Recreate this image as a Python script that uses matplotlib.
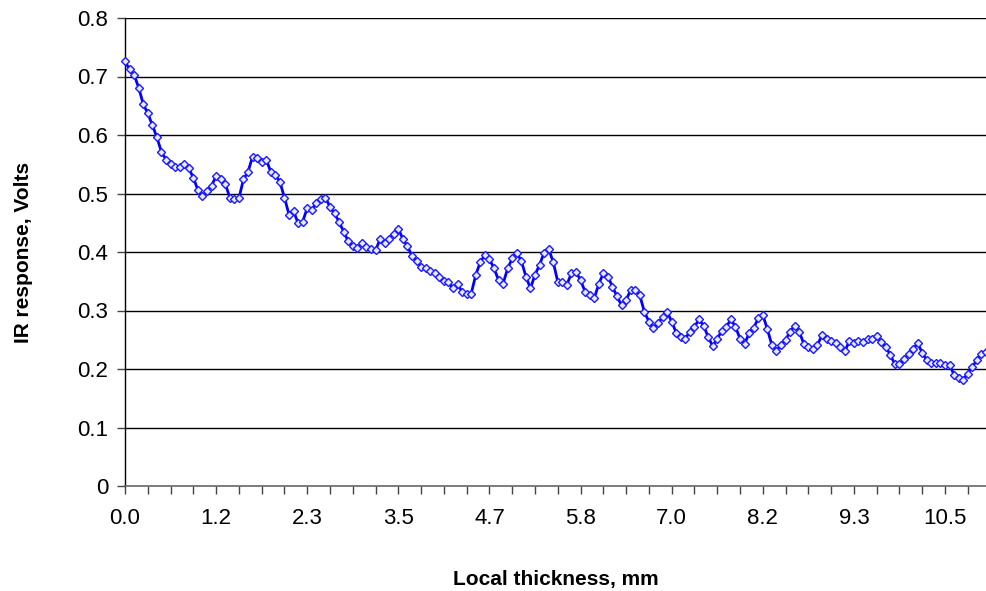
import matplotlib
matplotlib.use("Agg")
import matplotlib.pyplot as plt

# IR response (Volts) per sample
ir_response = [
    0.726, 0.712, 0.703, 0.681, 0.653, 0.637, 0.617, 0.596, 0.571, 0.558,
    0.550, 0.546, 0.546, 0.550, 0.543, 0.527, 0.506, 0.496, 0.504, 0.513,
    0.530, 0.524, 0.517, 0.493, 0.491, 0.492, 0.524, 0.537, 0.563, 0.560,
    0.554, 0.558, 0.537, 0.532, 0.520, 0.493, 0.464, 0.470, 0.449, 0.452,
    0.475, 0.472, 0.484, 0.490, 0.493, 0.477, 0.466, 0.451, 0.435, 0.418,
    0.410, 0.407, 0.415, 0.409, 0.405, 0.403, 0.422, 0.416, 0.423, 0.431,
    0.440, 0.422, 0.410, 0.393, 0.385, 0.374, 0.373, 0.368, 0.364, 0.357,
    0.351, 0.348, 0.338, 0.345, 0.332, 0.328, 0.329, 0.361, 0.383, 0.395,
    0.388, 0.372, 0.352, 0.346, 0.372, 0.389, 0.398, 0.385, 0.358, 0.338,
    0.361, 0.378, 0.399, 0.405, 0.383, 0.349, 0.348, 0.344, 0.364, 0.366,
    0.352, 0.332, 0.326, 0.321, 0.345, 0.364, 0.358, 0.341, 0.324, 0.309,
    0.318, 0.335, 0.335, 0.326, 0.298, 0.281, 0.270, 0.278, 0.289, 0.298,
    0.281, 0.262, 0.255, 0.252, 0.264, 0.272, 0.285, 0.274, 0.255, 0.239,
    0.252, 0.265, 0.272, 0.285, 0.272, 0.252, 0.243, 0.261, 0.270, 0.287,
    0.293, 0.268, 0.241, 0.231, 0.241, 0.250, 0.264, 0.274, 0.264, 0.243,
    0.238, 0.234, 0.241, 0.258, 0.252, 0.248, 0.244, 0.238, 0.230, 0.248,
    0.245, 0.248, 0.247, 0.251, 0.251, 0.256, 0.247, 0.238, 0.224, 0.208,
    0.208, 0.217, 0.225, 0.234, 0.244, 0.228, 0.215, 0.211, 0.210, 0.210,
    0.207, 0.207, 0.190, 0.184, 0.182, 0.192, 0.204, 0.215, 0.225, 0.229,
]

# category tick labels (every 20th sample), as printed on the axis
x_tick_labels = ["0.0", "1.2", "2.3", "3.5", "4.7", "5.8", "7.0", "8.2", "9.3", "10.5"]
y_tick_labels = ["0", "0.1", "0.2", "0.3", "0.4", "0.5", "0.6", "0.7", "0.8"]
y_ticks = [0, 0.1, 0.2, 0.3, 0.4, 0.5, 0.6, 0.7, 0.8]

plt.rcParams['font.family'] = ['Liberation Sans', 'DejaVu Sans']

W, H = 987, 591
fig = plt.figure(figsize=(W / 100, H / 100), dpi=100)
left, right, top, bottom = 125, 986, 18, 486
ax = fig.add_axes([left / W, 1 - bottom / H, (right - left) / W, (bottom - top) / H])

n = len(ir_response)
xs = list(range(n))
ax.plot(xs, ir_response, color='#0000ff', lw=2.0, marker='D', markersize=3.8,
        markerfacecolor='#e8e8ff', markeredgecolor='#1a1aff', markeredgewidth=1.0,
        zorder=3, clip_on=False)

ax.set_xlim(0, n - 1)
ax.set_ylim(0, 0.8)

for yv in y_ticks[1:]:
    ax.axhline(yv, color='black', lw=1.0, zorder=1)

ax.set_yticks(y_ticks)
ax.set_yticklabels(y_tick_labels)
major_pos = list(range(0, n, 5))
ax.set_xticks(major_pos)
labels = []
for p in major_pos:
    labels.append(x_tick_labels[p // 20] if p % 20 == 0 else "")
ax.set_xticklabels(labels)

for s in ['top', 'right']:
    ax.spines[s].set_visible(False)
ax.spines['left'].set_color('black')
ax.spines['bottom'].set_color('#666666')
ax.spines['left'].set_linewidth(1.0)
ax.spines['bottom'].set_linewidth(1.2)

ax.tick_params(axis='both', direction='out', length=6, width=1, color='#444444',
               labelsize=16, pad=6)
ax.tick_params(axis='x', pad=10)

ax.set_xlabel("Local thickness, mm", fontsize=15, fontweight='bold', labelpad=29)
ax.set_ylabel("IR response, Volts", fontsize=15, fontweight='bold', labelpad=32)

fig.savefig("out.png", dpi=100)
